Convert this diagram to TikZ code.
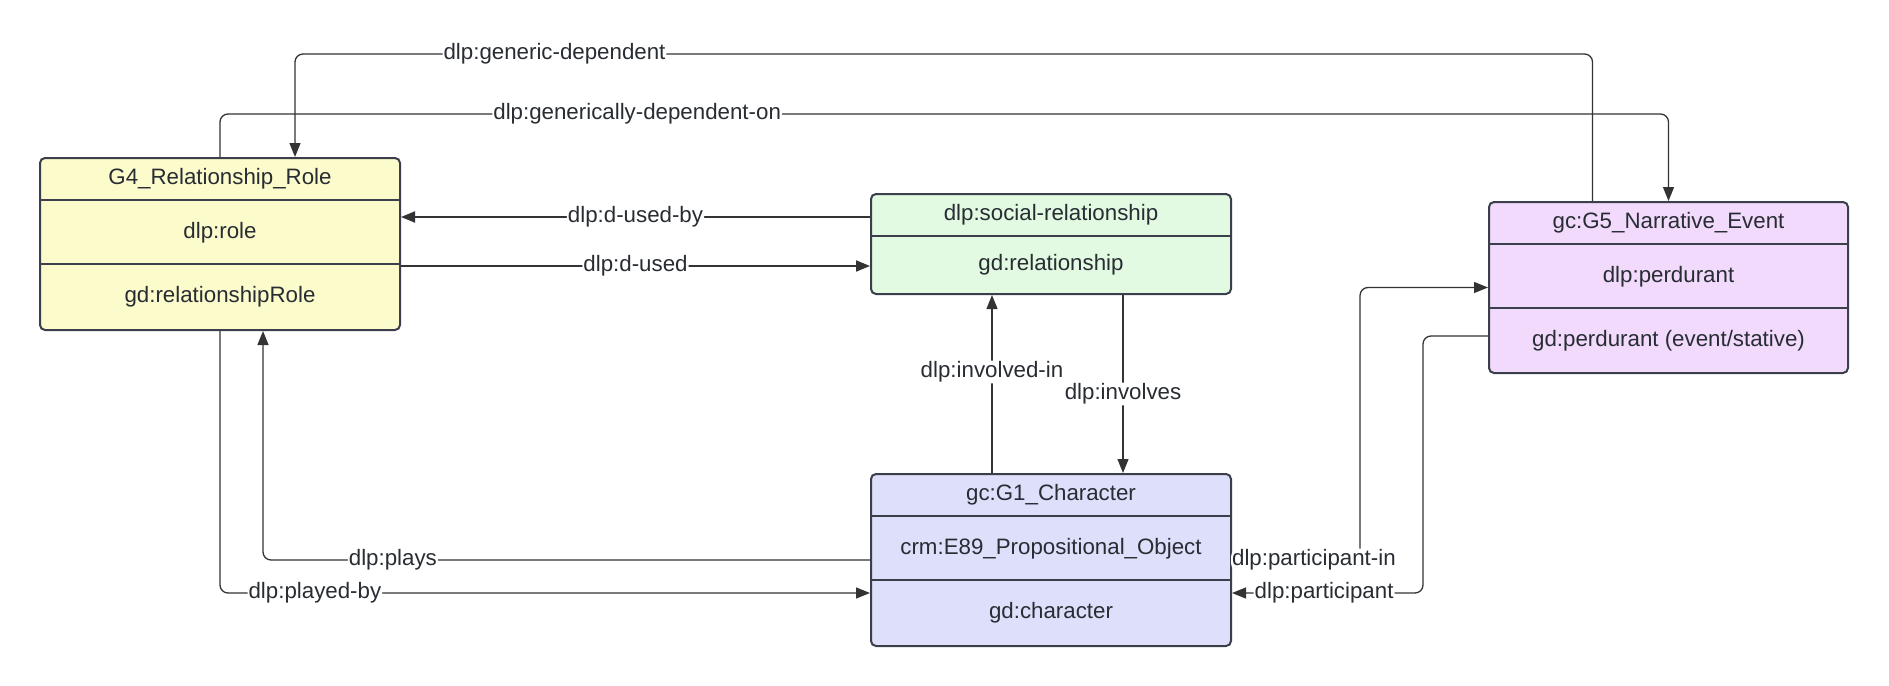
\documentclass[tikz,border=0pt]{standalone}
\usepackage{fontspec}
\setmainfont{Liberation Sans}
\usepackage{xcolor}
\usetikzlibrary{arrows.meta}
\usetikzlibrary{positioning}
\usetikzlibrary{calc}

\definecolor{rolefill}{HTML}{FCFBCB}
\definecolor{relfill}{HTML}{E1FAE1}
\definecolor{charfill}{HTML}{DEDFFB}
\definecolor{eventfill}{HTML}{F1DAFB}
\definecolor{boxline}{HTML}{3A3F4B}
\definecolor{linkline}{HTML}{333333}
\definecolor{txtcol}{HTML}{282C33}

\begin{document}
\begin{tikzpicture}[x=1pt, y=-1pt,
	every node/.style={font=\fontsize{22.3}{26}\selectfont, text=txtcol},
	cls/.style={draw=boxline, line width=2pt, rounded corners=5pt, minimum width=360pt, inner sep=0pt},
	div/.style={draw=boxline, line width=2pt},
	link/.style={draw=linkline, line width=1.3pt, rounded corners=8pt, -{Triangle[length=14pt,width=11pt]}},
	lbl/.style={fill=white, inner sep=1pt}]
	\useasboundingbox (0,0) rectangle (1889,685);

	% class boxes
	\node[cls, fill=rolefill, minimum height=172pt] (role) at (220,244) {};
	\node[cls, fill=relfill, minimum height=100pt] (rel) at (1051,244) {};
	\node[cls, fill=charfill, minimum height=172pt] (char) at (1051,560) {};
	\node[cls, fill=eventfill, minimum width=359pt, minimum height=171pt] (event) at (1668.5,287.5) {};

	% dividers
	\draw[div] ([yshift=-43pt]role.north west) -- ([yshift=-43pt]role.north east);
	\draw[div] ([yshift=-107pt]role.north west) -- ([yshift=-107pt]role.north east);
	\draw[div] ([yshift=-43pt]rel.north west) -- ([yshift=-43pt]rel.north east);
	\draw[div] ([yshift=-43pt]char.north west) -- ([yshift=-43pt]char.north east);
	\draw[div] ([yshift=-107pt]char.north west) -- ([yshift=-107pt]char.north east);
	\draw[div] ([yshift=-43pt]event.north west) -- ([yshift=-43pt]event.north east);
	\draw[div] ([yshift=-107pt]event.north west) -- ([yshift=-107pt]event.north east);

	% texts
	\node (roleHead) at ([yshift=-21.5pt]role.north) {G4\_Relationship\_Role};
	\node (roleRowA) at ([yshift=-76pt]role.north) {dlp:role};
	\node (roleRowB) at ([yshift=-140pt]role.north) {gd:relationshipRole};
	\node (relHead) at ([yshift=-21.5pt]rel.north) {dlp:social-relationship};
	\node (relRowA) at ([yshift=-72pt]rel.north) {gd:relationship};
	\node (charHead) at ([yshift=-21.5pt]char.north) {gc:G1\_Character};
	\node (charRowA) at ([yshift=-76pt]char.north) {crm:E89\_Propositional\_Object};
	\node (charRowB) at ([yshift=-140pt]char.north) {gd:character};
	\node (eventHead) at ([yshift=-21.5pt]event.north) {gc:G5\_Narrative\_Event};
	\node (eventRowA) at ([yshift=-76pt]event.north) {dlp:perdurant};
	\node (eventRowB) at ([yshift=-140pt]event.north) {gd:perdurant (event/stative)};

	% links over the top
	\draw[link] ([xshift=-76pt]event.north) -- ++(0,-147) -| node[lbl, pos=0.4] {dlp:generic-dependent} ([xshift=75pt]role.north);
	\draw[link] (role.north) -- ++(0,-43) -| node[lbl, pos=0.144] {dlp:generically-dependent-on} (event.north);

	% role <-> relationship
	\draw[link, line width=2pt] ([yshift=27pt]rel.west) -- node[lbl] {dlp:d-used-by} ([yshift=27pt]role.east);
	\draw[link, line width=2pt] ([yshift=-22pt]role.east) -- node[lbl] {dlp:d-used} ([yshift=-22pt]rel.west);

	% relationship <-> character
	\draw[link] ([xshift=-59pt]char.north) -- node[lbl, pos=0.567] {dlp:involved-in} ([xshift=-59pt]rel.south);
	\draw[link] ([xshift=72pt]rel.south) -- node[lbl, pos=0.556] {dlp:involves} ([xshift=72pt]char.north);

	% character <-> role
	\draw[link] (char.west) -| node[lbl, pos=0.393] {dlp:plays} ([xshift=43pt]role.south);
	\draw[link] (role.south) |- node[lbl, pos=0.573] {dlp:played-by} ([yshift=-33pt]char.west);

	% character <-> event
	\draw[link] (char.east) -- node[lbl, pos=0.64] {dlp:participant-in} ++(128,0) |- (event.west);
	\draw[link] ([yshift=-48.5pt]event.west) -- ++(-65,0) |- node[lbl, pos=0.759] {dlp:participant} ([yshift=-33pt]char.east);
\end{tikzpicture}
\end{document}
